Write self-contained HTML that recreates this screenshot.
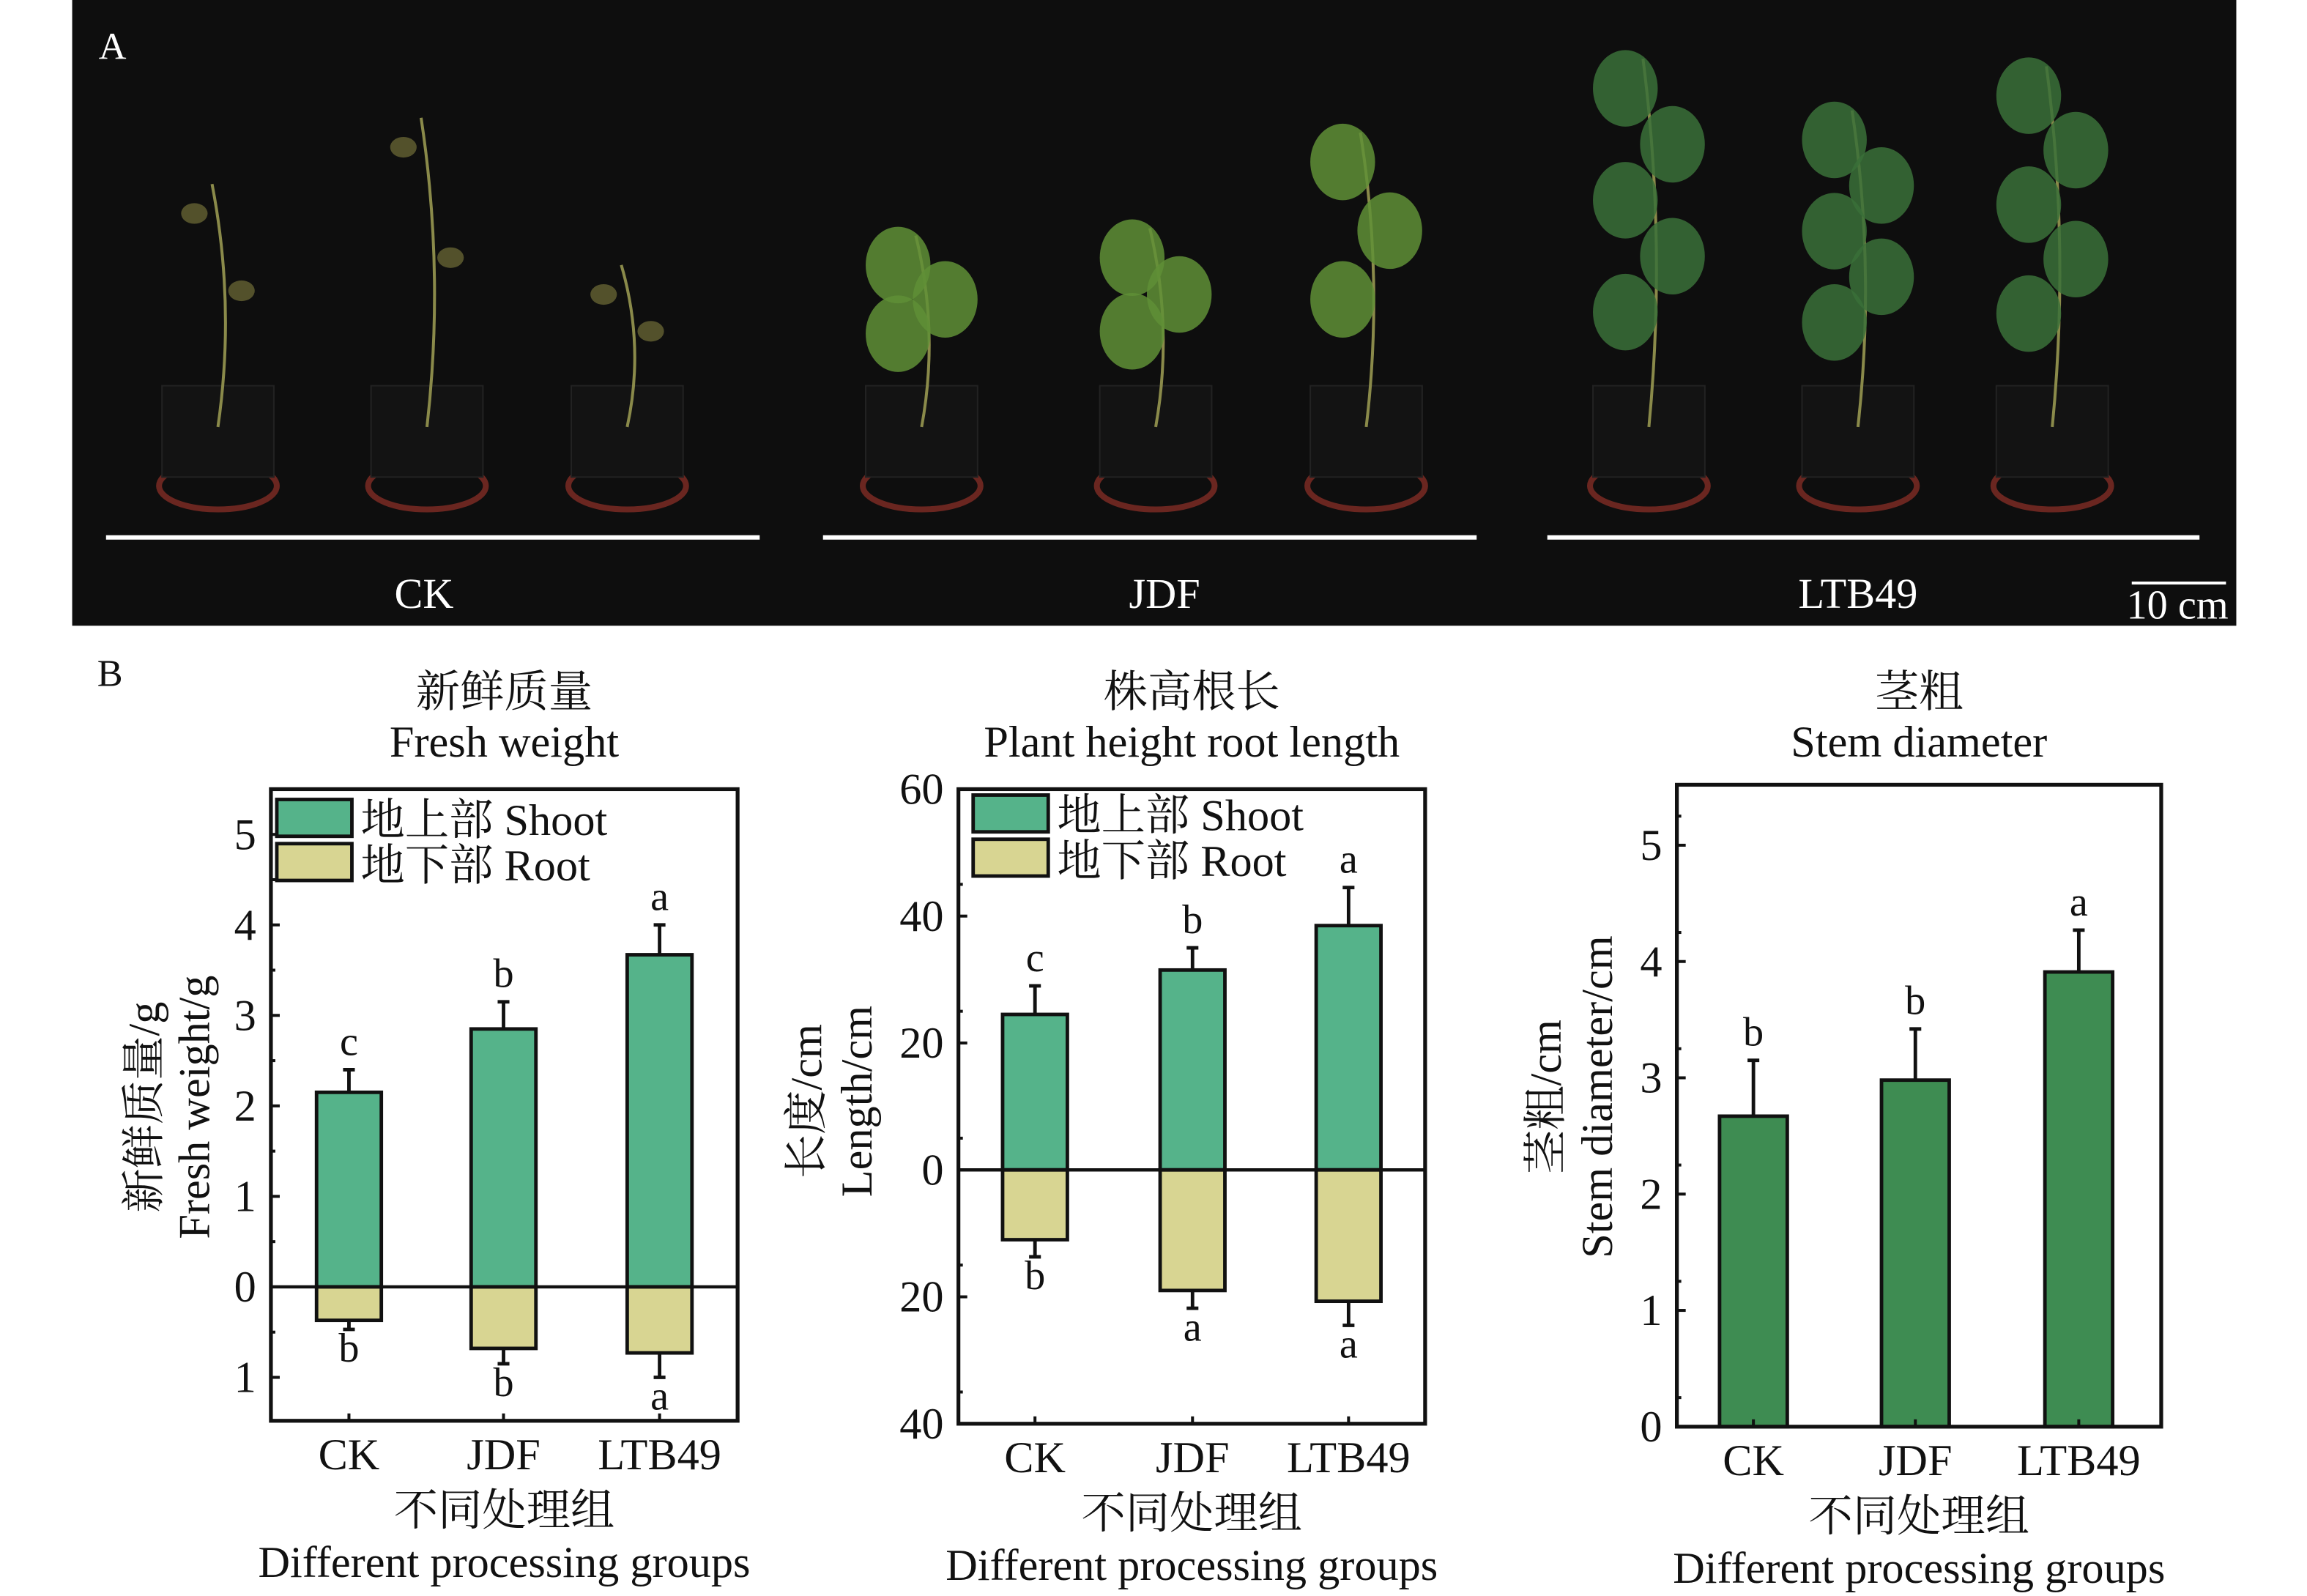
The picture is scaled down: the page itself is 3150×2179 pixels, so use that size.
<!DOCTYPE html>
<html><head><meta charset="utf-8"><style>
html,body{margin:0;padding:0;background:#fff}
svg{display:block}
text{font-family:"Liberation Serif","Noto Serif CJK SC",serif;fill:#111}
</style></head><body>
<svg id="fig" width="3150" height="2179" viewBox="0 0 1567 1084" xmlns="http://www.w3.org/2000/svg">
<g id="photo">
<rect x="49" y="0" width="1470" height="425" fill="#0e0e0e"/>
<text x="67" y="40" font-size="26" style="fill:#fff">A</text>
<g id="plants"></g>
<line x1="72" y1="365" x2="516" y2="365" stroke="#fff" stroke-width="3"/>
<line x1="559" y1="365" x2="1003" y2="365" stroke="#fff" stroke-width="3"/>
<line x1="1051" y1="365" x2="1494" y2="365" stroke="#fff" stroke-width="3"/>
<text x="288" y="413" font-size="29" text-anchor="middle" style="fill:#fff">CK</text>
<text x="791" y="413" font-size="29" text-anchor="middle" style="fill:#fff">JDF</text>
<text x="1262" y="413" font-size="29" text-anchor="middle" style="fill:#fff">LTB49</text>
<line x1="1448" y1="396" x2="1512" y2="396" stroke="#fff" stroke-width="2"/>
<text x="1479" y="420" font-size="28" text-anchor="middle" style="fill:#fff">10 cm</text>
</g>
<text x="66" y="466" font-size="26">B</text>
<g id="c1"></g>
<g id="c2"></g>
<g id="c3"></g>
</svg>
<script>
const NS='http://www.w3.org/2000/svg';
function mk(p,t,a,txt){const e=document.createElementNS(NS,t);for(const k in a)e.setAttribute(k,a[k]);if(txt!==undefined)e.textContent=txt;p.appendChild(e);return e;}

// plants (decorative)
const plantX=[148,290,426,626,785,928,1120,1262,1394];
const plantTop=[125,80,180,160,155,90,40,75,45];
const pg=document.getElementById('plants');
plantX.forEach((x,i)=>{
  const g=mk(pg,'g',{});
  
  
  mk(g,'ellipse',{cx:x,cy:330,rx:40,ry:16,fill:'none',stroke:'#6a2620','stroke-width':4});
  mk(g,'rect',{x:x-38,y:262,width:76,height:62,fill:'#131313',stroke:'#222'});
  mk(g,'path',{d:`M${x} 290 Q${x+12} ${(290+plantTop[i])/2} ${x-4} ${plantTop[i]}`,stroke:'#8a8a4a','stroke-width':2,fill:'none'});
  const leafy=i>=3, col=i<3?'#5f5d30':(i<6?'#5f8f36':'#3a7038');
  const n=i<3?2:(i<6?3:5);
  for(let k=0;k<n;k++){
    const ly=plantTop[i]+20+k*(230-plantTop[i])/n, lx=x+(k%2?16:-16);
    mk(g,'ellipse',{cx:lx,cy:ly,rx:leafy?22:9,ry:leafy?26:7,fill:col,opacity:0.85});
  }
});

function chart(gid, cfg){
  const g=document.getElementById(gid);
  const {x0,x1,yTop,yBot,vTop,vBot}=cfg;
  const ys=v=>yTop+(vTop-v)*(yBot-yTop)/(vTop-vBot);
  const bw=cfg.bw;
  cfg.cats.forEach((c,i)=>{
    const cx=cfg.centers[i];
    const vs=cfg.shoot[i], es=cfg.shootErr[i];
    let b=mk(g,'rect',{x:cx-bw/2,y:ys(vs),width:bw,height:ys(0)-ys(vs),fill:cfg.shootColor,stroke:'#111','stroke-width':2.4});
    
    
    let e=mk(g,'path',{d:`M${cx} ${ys(vs)} V${ys(es)} M${cx-4} ${ys(es)} H${cx+4}`,stroke:'#111','stroke-width':2.4,fill:'none'});
    
    
    let l=mk(g,'text',{x:cx,y:ys(es)-10,'font-size':28,'text-anchor':'middle'},cfg.shootLet[i]);
    
    
    if(cfg.root){
      const vr=-cfg.root[i], er=-cfg.rootErr[i];
      let r=mk(g,'rect',{x:cx-bw/2,y:ys(0),width:bw,height:ys(vr)-ys(0),fill:'#d8d592',stroke:'#111','stroke-width':2.4});
      
      
      let re=mk(g,'path',{d:`M${cx} ${ys(vr)} V${ys(er)} M${cx-4} ${ys(er)} H${cx+4}`,stroke:'#111','stroke-width':2.4,fill:'none'});
      
      
      let rl=mk(g,'text',{x:cx,y:ys(er)+22,'font-size':28,'text-anchor':'middle'},cfg.rootLet[i]);
      
      
    }
    let xt=mk(g,'text',{x:cx,y:yBot+33,'font-size':30,'text-anchor':'middle'},c);
    
    
    mk(g,'line',{x1:cx,y1:yBot,x2:cx,y2:yBot-5,stroke:'#111','stroke-width':2});
  });
  if(cfg.root){let z=mk(g,'line',{x1:x0,y1:ys(0),x2:x1,y2:ys(0),stroke:'#111','stroke-width':2.2});
    }
  let f=mk(g,'rect',{x:x0,y:yTop,width:x1-x0,height:yBot-yTop,fill:'none',stroke:'#111','stroke-width':2.6});
  
  cfg.ticks.forEach((t,i)=>{
    const y=ys(t);
    mk(g,'line',{x1:x0,y1:y,x2:x0+6,y2:y,stroke:'#111','stroke-width':2});
    const m=t+cfg.step/2;
    if(ys(m)>yTop+2&&ys(m)<yBot-2) mk(g,'line',{x1:x0,y1:ys(m),x2:x0+3,y2:ys(m),stroke:'#111','stroke-width':2});
    let tl=mk(g,'text',{x:x0-10,y:y+10,'font-size':30,'text-anchor':'end'},cfg.tickLabels[i]);
    
    
  });
  const mid=(x0+x1)/2;
  let t1=mk(g,'text',{x:mid,y:480,'font-size':30,'text-anchor':'middle'},cfg.titleCn);
  
  let t2=mk(g,'text',{x:mid,y:514,'font-size':30,'text-anchor':'middle'},cfg.titleEn);
  
  let xa=mk(g,'text',{x:mid,y:yBot+71,'font-size':30,'text-anchor':'middle'},'不同处理组');
  
  let xb=mk(g,'text',{x:mid,y:yBot+106,'font-size':30,'text-anchor':'middle'},'Different processing groups');
  
  let ya=mk(g,'text',{x:0,y:0,'font-size':30,'text-anchor':'middle',transform:`translate(${cfg.ylx1},${cfg.ylc}) rotate(-90)`},cfg.ylCn);
  
  let yb=mk(g,'text',{x:0,y:0,'font-size':30,'text-anchor':'middle',transform:`translate(${cfg.ylx2},${cfg.ylc}) rotate(-90)`},cfg.ylEn);
  
  if(cfg.legend){
    const lx=cfg.legend[0], ly=cfg.legend[1];
    let a=mk(g,'rect',{x:lx,y:ly,width:51,height:25,fill:'#55b38a',stroke:'#111','stroke-width':2.4});
    
    let at=mk(g,'text',{x:lx+57,y:ly+24,'font-size':30},'地上部 Shoot');
    
    let b=mk(g,'rect',{x:lx,y:ly+30,width:51,height:25,fill:'#d8d592',stroke:'#111','stroke-width':2.4});
    
    let bt=mk(g,'text',{x:lx+57,y:ly+55,'font-size':30},'地下部 Root');
    
  }
}

const cats=['CK','JDF','LTB49'];
// chart 1: fresh weight (g)
const fwShoot=[2.15,2.85,3.67];
const fwShootErr=[2.4,3.15,4.0];
const fwRoot=[0.37,0.68,0.73];
const fwRootErr=[0.47,0.85,1.0];
const fwShootLet=['c','b','a'];
const fwRootLet=['b','b','a'];
const fwTicks=[5,4,3,2,1,0,-1];
const fwTickLabels=['5','4','3','2','1','0','1'];
// chart 2: length (cm)
const lnShoot=[24.5,31.5,38.5];
const lnShootErr=[29,35,44.5];
const lnRoot=[11,19,20.7];
const lnRootErr=[13.7,21.8,24.5];
const lnShootLet=['c','b','a'];
const lnRootLet=['b','a','a'];
const lnTicks=[60,40,20,0,-20,-40];
const lnTickLabels=['60','40','20','0','20','40'];
// chart 3: stem diameter (cm)
const sdVal=[2.67,2.98,3.91];
const sdErr=[3.15,3.42,4.27];
const sdLet=['b','b','a'];
const sdTicks=[5,4,3,2,1,0];
const sdTickLabels=['5','4','3','2','1','0'];

chart('c1',{x0:184,x1:501,yTop:536,yBot:965,vTop:5.5,vBot:-1.48,bw:44,centers:[237,342,448],cats,
  shoot:fwShoot,shootErr:fwShootErr,root:fwRoot,rootErr:fwRootErr,shootLet:fwShootLet,rootLet:fwRootLet,
  shootColor:'#55b38a',ticks:fwTicks,tickLabels:fwTickLabels,step:1,titleCn:'新鲜质量',titleEn:'Fresh weight',
  ylCn:'新鲜质量/g',ylEn:'Fresh weight/g',ylx1:108,ylx2:142,ylc:752,legend:[188,543]});
chart('c2',{x0:651,x1:968,yTop:536,yBot:967,vTop:60,vBot:-40,bw:44,centers:[703,810,916],cats,
  shoot:lnShoot,shootErr:lnShootErr,root:lnRoot,rootErr:lnRootErr,shootLet:lnShootLet,rootLet:lnRootLet,
  shootColor:'#55b38a',ticks:lnTicks,tickLabels:lnTickLabels,step:10,titleCn:'株高根长',titleEn:'Plant height root length',
  ylCn:'长度/cm',ylEn:'Length/cm',ylx1:558,ylx2:592,ylc:748,legend:[661,540]});
chart('c3',{x0:1139,x1:1468,yTop:533,yBot:969,vTop:5.52,vBot:0,bw:46,centers:[1191,1301,1412],cats,
  shoot:sdVal,shootErr:sdErr,shootLet:sdLet,
  shootColor:'#3e8c52',ticks:sdTicks,tickLabels:sdTickLabels,step:0.5,titleCn:'茎粗',titleEn:'Stem diameter',
  ylCn:'茎粗/cm',ylEn:'Stem diameter/cm',ylx1:1060,ylx2:1095,ylc:745});
</script>
</body></html>
